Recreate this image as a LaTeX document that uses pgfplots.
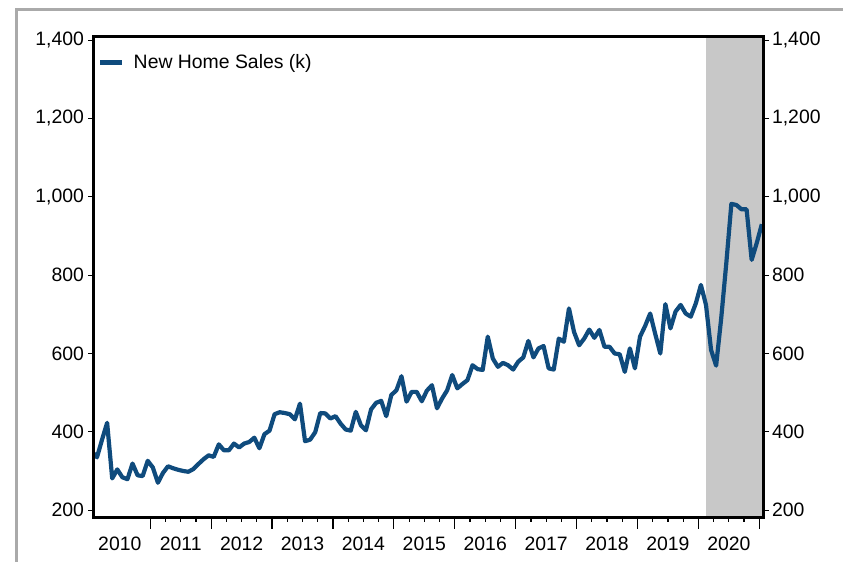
\documentclass[border=0pt]{standalone}
\usepackage{fontspec}
\setmainfont{Liberation Sans}
\usepackage{pgfplots}
\usepackage{pgfplotstable}
\pgfplotsset{compat=1.18}

\definecolor{salesblue}{RGB}{15,75,125}
\definecolor{recess}{RGB}{200,200,200}
\definecolor{framegray}{RGB}{170,170,170}

% monthly new home sales, thousands (SAAR)
\pgfplotstableread{
yr m v
2010 1 350
2010 2 335
2010 3 380
2010 4 423
2010 5 281
2010 6 304
2010 7 284
2010 8 279
2010 9 319
2010 10 289
2010 11 287
2010 12 326
2011 1 309
2011 2 270
2011 3 295
2011 4 312
2011 5 307
2011 6 303
2011 7 300
2011 8 298
2011 9 305
2011 10 318
2011 11 330
2011 12 340
2012 1 336
2012 2 368
2012 3 353
2012 4 353
2012 5 370
2012 6 360
2012 7 370
2012 8 374
2012 9 385
2012 10 358
2012 11 394
2012 12 403
2013 1 445
2013 2 450
2013 3 448
2013 4 445
2013 5 432
2013 6 472
2013 7 376
2013 8 380
2013 9 399
2013 10 448
2013 11 447
2013 12 434
2014 1 440
2014 2 421
2014 3 406
2014 4 403
2014 5 451
2014 6 417
2014 7 404
2014 8 457
2014 9 474
2014 10 479
2014 11 440
2014 12 494
2015 1 506
2015 2 542
2015 3 477
2015 4 502
2015 5 502
2015 6 478
2015 7 505
2015 8 519
2015 9 460
2015 10 485
2015 11 506
2015 12 545
2016 1 511
2016 2 522
2016 3 532
2016 4 570
2016 5 560
2016 6 558
2016 7 643
2016 8 587
2016 9 566
2016 10 576
2016 11 570
2016 12 559
2017 1 579
2017 2 590
2017 3 632
2017 4 590
2017 5 613
2017 6 619
2017 7 562
2017 8 559
2017 9 638
2017 10 630
2017 11 715
2017 12 655
2018 1 621
2018 2 638
2018 3 661
2018 4 640
2018 5 660
2018 6 617
2018 7 617
2018 8 600
2018 9 598
2018 10 553
2018 11 613
2018 12 562
2019 1 643
2019 2 670
2019 3 702
2019 4 650
2019 5 600
2019 6 726
2019 7 664
2019 8 707
2019 9 724
2019 10 702
2019 11 694
2019 12 728
2020 1 775
2020 2 724
2020 3 609
2020 4 569
2020 5 690
2020 6 830
2020 7 982
2020 8 979
2020 9 968
2020 10 968
2020 11 839
2020 12 882
2021 1 930
}\sales

\newcommand{\chartfont}{\fontsize{9.7}{11.6}\selectfont}

\begin{document}
\begin{tikzpicture}
% main axis: shading, line, box, year ticks
\begin{axis}[
  scale only axis, width=334.5pt, height=240.5pt,
  xmin=2010.076, xmax=2021.061, ymin=180, ymax=1408,
  axis on top,
  axis line style={line width=1.5pt},
  xtick={2011,2012,2013,2014,2015,2016,2017,2018,2019,2020,2021},
  xticklabels={},
  minor x tick num=3,
  xtick pos=lower,
  ytick=\empty,
  tick align=outside,
  major tick length=5.5pt, minor tick length=2pt,
  every tick/.style={black, line width=0.6pt},
  legend image code/.code={\draw[line width=2.5pt] (0pt,0pt) -- (11pt,0pt);},
  legend style={at={(rel axis cs:0.005,0.947)}, anchor=west, draw=none, fill=none,
    inner sep=0pt, font=\chartfont, nodes={inner sep=0pt}, column sep=4.5pt},
]
\coordinate (sw) at (rel axis cs:0,0);
\fill[recess] (axis cs:2020.125,180) rectangle (axis cs:2021.061,1408);
\addplot[salesblue, line width=2.1pt, line join=round, mark=none]
  table[x expr=\thisrow{yr}+(\thisrow{m}-0.5)/12, y=v] {\sales};
\legend{New Home Sales (k)}
\end{axis}

% left y labels and year labels
\begin{axis}[
  scale only axis, width=334.5pt, height=240.5pt,
  xmin=2010.076, xmax=2021.061, ymin=180, ymax=1408,
  axis x line*=bottom, axis y line*=left,
  x axis line style={draw=none}, y axis line style={draw=none},
  xtick={2010.5,2011.5,2012.5,2013.5,2014.5,2015.5,2016.5,2017.5,2018.5,2019.5,2020.5},
  xticklabels={2010,2011,2012,2013,2014,2015,2016,2017,2018,2019,2020},
  xtick style={draw=none},
  xticklabel style={yshift=-3pt},
  yticklabel style={xshift=1.5pt},
  ytick={200,400,600,800,1000,1200,1400},
  tick align=outside, major tick length=3pt,
  ytick style={black, line width=0.6pt},
  ticklabel style={font=\chartfont},
  /pgf/number format/1000 sep={,},
  /pgf/number format/assume math mode=true,
]
\end{axis}

% right y labels
\begin{axis}[
  scale only axis, width=334.5pt, height=240.5pt,
  xmin=2010.076, xmax=2021.061, ymin=180, ymax=1408,
  hide x axis, axis y line*=right,
  y axis line style={draw=none},
  ytick={200,400,600,800,1000,1200,1400},
  tick align=outside, major tick length=3pt,
  ytick style={black, line width=0.6pt},
  yticklabel style={xshift=-2pt},
  ticklabel style={font=\chartfont},
  /pgf/number format/1000 sep={,},
  /pgf/number format/assume math mode=true,
]
\end{axis}

\draw[framegray, line width=1.5pt]
  ([shift={(-38.5pt,-40pt)}]sw) -- ([shift={(-38.5pt,254.25pt)}]sw)
  -- ([shift={(400pt,254.25pt)}]sw);
\pgfresetboundingbox
\path[use as bounding box] ([shift={(-47pt,-22pt)}]sw) rectangle ([shift={(374.5pt,259pt)}]sw);
\end{tikzpicture}
\end{document}
